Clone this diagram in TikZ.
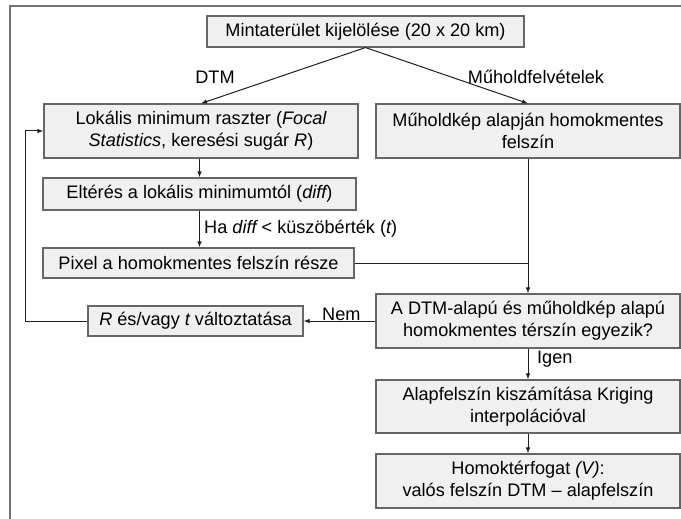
\documentclass[tikz,border=0pt]{standalone}
\usepackage{fontspec}
\setmainfont{Liberation Sans}
\usetikzlibrary{arrows.meta}
\definecolor{boxfill}{gray}{0.94}
\definecolor{boxline}{gray}{0.40}
\definecolor{frameline}{gray}{0.45}
\definecolor{conn}{gray}{0.12}
\newcommand{\fsz}{\fontsize{18.2}{21.7}\selectfont}
\begin{document}
\begin{tikzpicture}[x=1bp,y=-1bp,
  box/.style={draw=boxline, fill=boxfill, line width=1.1bp, inner sep=0pt, align=center, font=\fsz, text=black},
  lbl/.style={inner sep=0pt, font=\fsz, text=black},
  arr/.style={draw=conn, line width=1bp, -{Latex[length=6bp,width=4.5bp]}},
  ln/.style={draw=conn, line width=1bp}]
\useasboundingbox (0,0) rectangle (681,519);
\draw[frameline, line width=1.5bp] (10,519) -- (10,6) -- (681,6);

\node[box, minimum width=317bp, minimum height=31bp] (top) at (365.5,31.5) {Mintaterület kijelölése (20 x 20 km)};
\node[box, minimum width=314bp, minimum height=54bp] (lok) at (201,131) {Lokális minimum raszter ({\itshape Focal}\\{\itshape Statistics}, keresési sugár {\itshape R})};
\node[box, minimum width=304bp, minimum height=54bp] (sat) at (528,131) {Műholdkép alapján homokmentes\\felszín};
\node[box, minimum width=313bp, minimum height=32bp] (elt) at (199.5,194) {Eltérés a lokális minimumtól ({\itshape diff})};
\node[box, minimum width=311bp, minimum height=30bp] (pix) at (198.5,263) {Pixel a homokmentes felszín része};
\node[box, minimum width=215bp, minimum height=30bp] (rbox) at (195.5,321) {{\itshape R} és/vagy {\itshape t} változtatása};
\node[box, minimum width=304bp, minimum height=54bp] (dec) at (528,321) {A DTM-alapú és műholdkép alapú\\homokmentes térszín egyezik?};
\node[box, minimum width=304bp, minimum height=53bp] (alap) at (528,406.5) {Alapfelszín kiszámítása Kriging\\interpolációval};
\node[box, minimum width=304bp, minimum height=54bp] (homok) at (528,481) {Homoktérfogat {\itshape (V)}:\\valós felszín DTM – alapfelszín};

\node[lbl] (ldtm) at (215,77) {DTM};
\node[lbl] (lsat) at (536,77) {Műholdfelvételek};
\node[lbl, anchor=west] (lha) at (204,229) {Ha {\itshape diff} < küszöbérték ({\itshape t})};
\node[lbl, anchor=west] (lnem) at (322,314) {Nem};
\node[lbl, anchor=west] (ligen) at (537,359) {Igen};

\draw[arr] (top.south) -- (lok.north);
\draw[arr] (top.south) -- (sat.north);
\draw[arr] (lok.south -| elt.north) -- (elt.north);
\draw[arr] (elt.south) -- (elt.south |- pix.north);
\draw[arr] (sat.south) -- (dec.north);
\coordinate (join) at (pix.east -| sat.south);
\draw[ln] (pix.east) -- (join);
\draw[arr] (dec.west) -- (rbox.east);
\coordinate (fb) at (25,321);
\draw[arr] (rbox.west) -- (fb) |- (lok.west);
\draw[arr] (dec.south) -- (alap.north);
\draw[arr] (alap.south) -- (homok.north);
\end{tikzpicture}
\end{document}
